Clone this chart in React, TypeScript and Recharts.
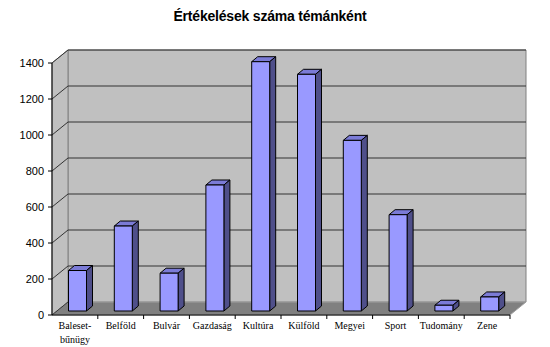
import React from 'react';
import { BarChart, Bar, XAxis, YAxis, ReferenceArea } from 'recharts';

const categories = ['Baleset-bűnügy', 'Belföld', 'Bulvár', 'Gazdaság', 'Kultúra', 'Külföld', 'Megyei', 'Sport', 'Tudomány', 'Zene'];
const counts = [225, 472, 210, 700, 1385, 1315, 948, 535, 32, 78];
const yTicks = [0, 200, 400, 600, 800, 1000, 1200, 1400];
const yMax = 1400;

// 3D look: wall depth and bar depth offsets
const WALL_DX = 16;
const WALL_DY = -13;
const BAR_DX = 2.5;
const BAR_DY = -4;
const SIDE_DX = 6;
const SIDE_DY = -5;

const data = categories.map((name, i) => ({ name, count: counts[i] }));

const Backdrop = (props: any) => {
  const { x, y, width, height } = props;
  const bottom = y + height;
  const right = x + width;
  const pt = (a: number, b: number) => `${a},${b}`;
  return (
    <g>
      <polygon
        points={[pt(x + WALL_DX, y + WALL_DY), pt(right + WALL_DX, y + WALL_DY), pt(right + WALL_DX, bottom + WALL_DY), pt(x + WALL_DX, bottom + WALL_DY)].join(' ')}
        fill="#c0c0c0"
        stroke="#808080"
      />
      <polygon
        points={[pt(x, bottom), pt(x, y), pt(x + WALL_DX, y + WALL_DY), pt(x + WALL_DX, bottom + WALL_DY)].join(' ')}
        fill="#c0c0c0"
        stroke="#808080"
      />
      <polygon
        points={[pt(x, bottom), pt(right, bottom), pt(right + WALL_DX, bottom + WALL_DY), pt(x + WALL_DX, bottom + WALL_DY)].join(' ')}
        fill="#808080"
        stroke="#a0a0a0"
      />
      {yTicks.map((v) => {
        const ty = bottom - (height * v) / yMax;
        return (
          <g key={v} stroke="#333" strokeWidth={1}>
            <line x1={x} y1={ty} x2={x + WALL_DX} y2={ty + WALL_DY} />
            {v > 0 && <line x1={x + WALL_DX} y1={ty + WALL_DY} x2={right + WALL_DX} y2={ty + WALL_DY} />}
          </g>
        );
      })}
    </g>
  );
};

const Bar3D = (props: any) => {
  const { x, y, width, height } = props;
  if (height == null || width == null) return null;
  const fx = x + BAR_DX;
  const fy = y + BAR_DY;
  const r = fx + width;
  const b = fy + height;
  const pt = (a: number, c: number) => `${a},${c}`;
  return (
    <g stroke="#000" strokeWidth={1} strokeLinejoin="round">
      <polygon points={[pt(fx, fy), pt(fx + SIDE_DX, fy + SIDE_DY), pt(r + SIDE_DX, fy + SIDE_DY), pt(r, fy)].join(' ')} fill="#7b7bd6" />
      <polygon points={[pt(r, fy), pt(r + SIDE_DX, fy + SIDE_DY), pt(r + SIDE_DX, b + SIDE_DY), pt(r, b)].join(' ')} fill="#4f4f8a" />
      <rect x={fx} y={fy} width={width} height={height} fill="#9999ff" />
    </g>
  );
};

const CategoryTick = (props: any) => {
  const { x, y, payload } = props;
  const half = payload.offset || 22.9;
  const label: string = payload.value;
  const lines = label.includes('-') ? [label.slice(0, label.indexOf('-') + 1), label.slice(label.indexOf('-') + 1)] : [label];
  return (
    <g>
      <line x1={x + half} y1={y} x2={x + half} y2={y + 4} stroke="#000" />
      {lines.map((ln, i) => (
        <text
          key={i}
          x={x}
          y={y + 14 + i * 14}
          textAnchor="middle"
          fontFamily="'Liberation Serif', 'Times New Roman', serif"
          fontSize={10}
          fill="#000"
        >
          {ln}
        </text>
      ))}
    </g>
  );
};

export default function App() {
  return (
    <div style={{ position: 'absolute', left: 0, top: 0, width: 550, height: 347, background: '#fff' }}>
      <div
        style={{
          position: 'absolute',
          left: 0,
          top: 8,
          width: 540,
          textAlign: 'center',
          fontFamily: "'Liberation Sans', Arial, sans-serif",
          fontWeight: 'bold',
          fontSize: 14,
          letterSpacing: -0.2,
          color: '#000',
        }}
      >
        Értékelések száma témánként
      </div>
      <BarChart
        width={550}
        height={347}
        data={data}
        margin={{ top: 63, right: 40, bottom: 0, left: 0 }}
      >
        <ReferenceArea y1={0} y2={yMax} shape={<Backdrop />} ifOverflow="visible" />
        <XAxis
          dataKey="name"
          interval={0}
          height={32}
          tickLine={false}
          tickSize={0}
          tickMargin={0}
          axisLine={{ stroke: '#000' }}
          tick={<CategoryTick />}
        />
        <YAxis
          width={52}
          domain={[0, yMax]}
          ticks={yTicks}
          interval={0}
          tickSize={4}
          tickMargin={4}
          axisLine={{ stroke: '#000' }}
          tickLine={{ stroke: '#000' }}
          tick={{ fill: '#000', fontSize: 11, fontFamily: "'Liberation Sans', Arial, sans-serif" }}
        />
        <Bar dataKey="count" barSize={18} shape={<Bar3D />} isAnimationActive={false} />
      </BarChart>
    </div>
  );
}
